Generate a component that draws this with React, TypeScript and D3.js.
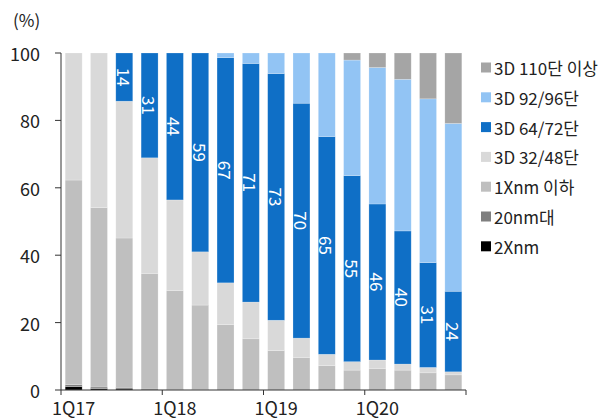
import React from "react";
import * as d3 from "d3";

// quarters 1Q17 ~ 4Q20, share of bits (%)
const quarters = [
  "1Q17", "2Q17", "3Q17", "4Q17",
  "1Q18", "2Q18", "3Q18", "4Q18",
  "1Q19", "2Q19", "3Q19", "4Q19",
  "1Q20", "2Q20", "3Q20", "4Q20",
];

const nm2X = [1.0, 0.4, 0.3, 0, 0, 0, 0, 0, 0, 0, 0, 0, 0, 0, 0, 0];
const nm20 = [0.6, 0.5, 0.5, 0.3, 0.2, 0.1, 0, 0, 0, 0, 0, 0, 0, 0, 0, 0];
const nm1X = [60.7, 53.2, 44.3, 34.3, 29.3, 25.1, 19.4, 15.2, 11.7, 9.6, 7.2, 5.9, 6.4, 5.9, 5.1, 4.5];
const d3_32 = [37.7, 45.9, 40.6, 34.3, 26.9, 15.8, 12.4, 10.9, 9.0, 5.8, 3.4, 2.5, 2.5, 1.8, 1.6, 0.9];
const d3_64 = [0, 0, 14.3, 31.1, 43.6, 59.0, 66.8, 70.8, 73.2, 69.7, 64.6, 55.2, 46.3, 39.5, 31.1, 23.9];
const d3_92 = [0, 0, 0, 0, 0, 0, 1.4, 3.1, 6.1, 14.9, 24.8, 34.3, 40.5, 45.0, 48.6, 49.8];
const d3_110 = [0, 0, 0, 0, 0, 0, 0, 0, 0, 0, 0, 2.1, 4.3, 7.8, 13.6, 20.9];

const keys = ["2Xnm", "20nm대", "1Xnm 이하", "3D 32/48단", "3D 64/72단", "3D 92/96단", "3D 110단 이상"];
const colors = ["#000000", "#7f7f7f", "#bfbfbf", "#d9d9d9", "#0f6fc6", "#92c4f4", "#a5a5a5"];
const yTicks = [0, 20, 40, 60, 80, 100];
const xLabels = ["1Q17", "1Q18", "1Q19", "1Q20"];

const font = "'Noto Sans CJK KR', 'Noto Sans', sans-serif";

const App = () => {
  const width = 611;
  const height = 419;
  const left = 61;
  const right = 466;
  const top = 53;
  const bottom = 390;

  const rows = quarters.map((q, i) => ({
    q,
    "2Xnm": nm2X[i],
    "20nm대": nm20[i],
    "1Xnm 이하": nm1X[i],
    "3D 32/48단": d3_32[i],
    "3D 64/72단": d3_64[i],
    "3D 92/96단": d3_92[i],
    "3D 110단 이상": d3_110[i],
  }));

  const series = d3.stack().keys(keys)(rows as any);

  const x = d3.scaleBand().domain(quarters).range([left, right]).padding(0);
  const y = d3.scaleLinear().domain([0, 100]).range([bottom, top]);
  const color = d3.scaleOrdinal<string, string>().domain(keys).range(colors);

  const bw = x.bandwidth() * 0.67;
  const off = (x.bandwidth() - bw) / 2;

  const tickXs = [0, 4, 8, 12].map((i) => x(quarters[i])!).concat([right]);
  const blue = series[keys.indexOf("3D 64/72단")];

  const legendKeys = keys.slice().reverse();

  return (
    <svg
      width={width}
      height={height}
      style={{ position: "absolute", left: 0, top: 0, background: "#fff" }}
      fontFamily={font}
    >
      <text x={13} y={27} fontSize={17} fill="#222">(%)</text>

      {series.map((s) => (
        <g key={s.key} fill={color(s.key)}>
          {s.map((d, i) =>
            d[1] - d[0] > 0 ? (
              <rect
                key={i}
                x={x(quarters[i])! + off}
                y={y(d[1])}
                width={bw}
                height={y(d[0]) - y(d[1])}
                stroke="#ffffff"
                strokeOpacity={0.35}
                strokeWidth={0.6}
              />
            ) : null
          )}
        </g>
      ))}

      {blue.map((d, i) => {
        const v = d[1] - d[0];
        if (v <= 0) return null;
        const cx = x(quarters[i])! + x.bandwidth() / 2;
        const cy = y((d[0] + d[1]) / 2);
        return (
          <text
            key={i}
            transform={`translate(${cx},${cy}) rotate(90)`}
            textAnchor="middle"
            dominantBaseline="central"
            fontSize={17}
            fill="#ffffff"
          >
            {Math.round(v)}
          </text>
        );
      })}

      {/* y axis */}
      <line x1={left} x2={left} y1={top} y2={bottom} stroke="#333" />
      {yTicks.map((t) => (
        <g key={t}>
          <line x1={left - 6} x2={left} y1={y(t)} y2={y(t)} stroke="#333" />
          <text
            x={40}
            y={y(t)}
            textAnchor="end"
            dominantBaseline="central"
            fontSize={18}
            fill="#222"
          >
            {t}
          </text>
        </g>
      ))}

      {/* x axis */}
      <line x1={left} x2={right} y1={bottom} y2={bottom} stroke="#333" />
      {tickXs.map((tx, i) => (
        <line key={i} x1={tx} x2={tx} y1={bottom} y2={bottom + 5} stroke="#333" />
      ))}
      {xLabels.map((l) => (
        <text
          key={l}
          x={x(l)! + x.bandwidth() / 2}
          y={415}
          textAnchor="middle"
          fontSize={18}
          fill="#222"
        >
          {l}
        </text>
      ))}

      {/* legend */}
      {legendKeys.map((k, i) => {
        const cy = 67.5 + i * 29.8;
        return (
          <g key={k}>
            <rect x={481} y={cy - 5} width={10} height={10} fill={color(k)} />
            <text x={494} y={cy} dominantBaseline="central" fontSize={17} fill="#222">
              {k}
            </text>
          </g>
        );
      })}
    </svg>
  );
};

export default App;
